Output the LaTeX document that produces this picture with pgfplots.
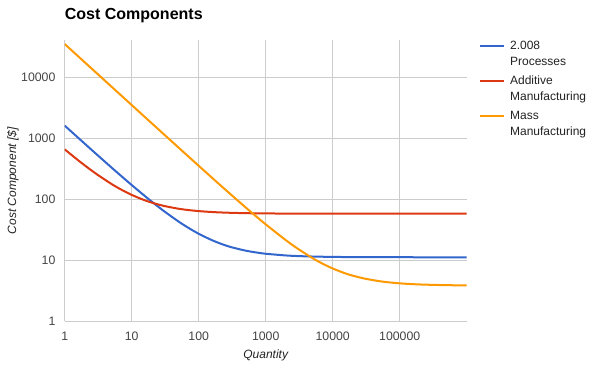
\documentclass[border=0pt]{standalone}
\usepackage{pgfplots}
\pgfplotsset{compat=1.18}
\usepackage{fontspec}
\setmainfont{Liberation Sans}
\definecolor{gblue}{HTML}{3366CC}
\definecolor{gred}{HTML}{DC3912}
\definecolor{gorange}{HTML}{FF9900}
\definecolor{gridgray}{HTML}{CCCCCC}
\definecolor{ticktext}{HTML}{444444}
\definecolor{labeltext}{HTML}{222222}
\newcommand{\twoline}[2]{\vtop{\baselineskip=16pt\hbox{\rule{0pt}{11pt}#1}\hbox{\rule[-4pt]{0pt}{4pt}#2}}}
\begin{document}
\begin{tikzpicture}[x=1pt,y=1pt]
\useasboundingbox (0,0) rectangle (600,371);
\begin{axis}[
  at={(64.7pt,49.7pt)}, anchor=south west,
  scale only axis, width=402pt, height=281.3pt,
  xmode=log, ymode=log,
  xmin=1, xmax=1000000, ymin=1, ymax=40800,
  xtick={1,10,100,1000,10000,100000},
  xticklabels={1,10,100,1000,10000,100000},
  ytick={1,10,100,1000,10000},
  yticklabels={1,10,100,1000,10000},
  xminorticks=false, yminorticks=false,
  tick style={draw=none},
  grid=major,
  major grid style={draw=gridgray, line width=1pt},
  axis x line=bottom, axis y line=left,
  axis line style={draw=gridgray, line width=1pt, -},
  xticklabel style={anchor=center, yshift=-13pt, inner sep=0pt, text=ticktext, font=\fontsize{12.3}{14}\selectfont},
  yticklabel style={anchor=east, xshift=-7pt, inner sep=0pt, text=ticktext, font=\fontsize{12.3}{14}\selectfont},
  title={Cost Components},
  title style={at={(axis description cs:0,1)}, anchor=base west, yshift=14pt, inner sep=0pt, font=\bfseries\fontsize{16}{19}\selectfont, text=black},
  xlabel={Quantity},
  xlabel style={at={(axis description cs:0.5,-0.1223)}, anchor=center, inner sep=0pt, text=labeltext, font=\itshape\fontsize{12}{14}\selectfont},
  ylabel={Cost Component [\$]},
  ylabel style={at={(axis description cs:-0.1286,0.5)}, anchor=center, rotate=0, inner sep=0pt, text=labeltext, font=\itshape\fontsize{12}{14}\selectfont},
  legend style={at={(axis description cs:1.0306,1.0036)}, anchor=north west, draw=none, fill=none, inner sep=0pt, outer sep=0pt, row sep=4pt, column sep=5.6pt,
    nodes={inner sep=0pt, text=labeltext, font=\fontsize{12}{16}\selectfont, text height=11pt, text depth=20pt},
    cells={anchor=base west}},
  legend image code/.code={\draw[#1, line width=2pt] (0pt,4.3pt) -- (23.5pt,4.3pt);},
]
\addplot[gblue, line width=2pt, smooth] coordinates {
(1,1611.2) (1.5,1077.9) (2,811.2) (3,544.5) (5,331.2) (7,239.8) (10,171.2)
(15,117.9) (20,91.2) (30,64.5) (50,43.2) (70,34.1) (100,27.2) (150,21.9)
(200,19.2) (300,16.5) (500,14.4) (700,13.5) (1000,12.8) (2000,12.0)
(3000,11.73) (5000,11.52) (10000,11.36) (20000,11.28) (50000,11.23)
(100000,11.22) (200000,11.21) (500000,11.2) (1000000,11.2)};
\addlegendentry{\twoline{2.008}{Processes}}
\addplot[gred, line width=2pt, smooth] coordinates {
(1,658) (1.5,458) (2,358) (3,258) (5,178) (7,143.7) (10,118)
(15,98) (20,88) (30,78) (50,70) (70,66.6) (100,64) (150,62)
(200,61) (300,60) (500,59.2) (700,58.86) (1000,58.6) (2000,58.3)
(3000,58.2) (5000,58.12) (10000,58.06) (20000,58.03) (50000,58.01)
(100000,58.01) (200000,58) (500000,58) (1000000,58)};
\addlegendentry{\twoline{Additive}{Manufacturing}}
\addplot[gorange, line width=2pt, smooth] coordinates {
(1,35003.8) (1.5,23337) (2,17504) (3,11670) (5,7004) (7,5004) (10,3504)
(15,2337) (20,1754) (30,1170) (50,703.8) (70,503.8) (100,353.8) (150,237.2)
(200,178.8) (300,120.5) (500,73.84) (700,53.84) (1000,38.84) (2000,21.34)
(3000,15.51) (5000,10.84) (7000,8.84) (10000,7.34) (15000,6.17) (20000,5.59)
(30000,5.01) (50000,4.54) (70000,4.34)
(100000,4.19) (150000,4.07) (200000,4.015) (300000,3.96) (500000,3.91) (1000000,3.875)};
\addlegendentry{\twoline{Mass}{Manufacturing}}
\end{axis}
\end{tikzpicture}
\end{document}
